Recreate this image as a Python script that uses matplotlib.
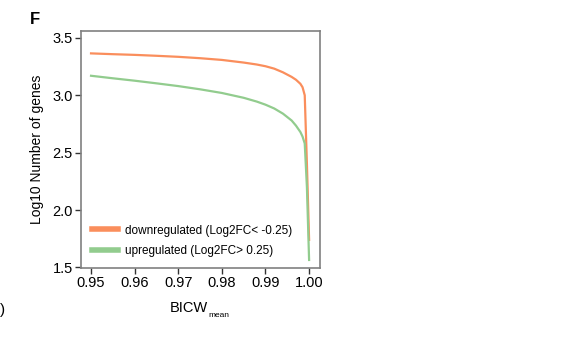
import matplotlib
matplotlib.use('Agg')
from matplotlib import pyplot as plt

plt.rcParams['font.family'] = ['Liberation Sans', 'DejaVu Sans']

# BICW_mean thresholds and log10 gene counts
bicw = [0.950, 0.955, 0.960, 0.965, 0.970, 0.975, 0.980, 0.985, 0.988,
        0.990, 0.992, 0.994, 0.996, 0.997, 0.998, 0.9985, 0.999, 0.9995, 1.000]
down = [3.365, 3.358, 3.352, 3.344, 3.335, 3.323, 3.308, 3.285, 3.268,
        3.253, 3.232, 3.200, 3.160, 3.135, 3.100, 3.070, 3.000, 2.400, 1.740]
up = [3.170, 3.148, 3.127, 3.104, 3.080, 3.052, 3.020, 2.978, 2.945,
      2.918, 2.885, 2.840, 2.780, 2.735, 2.680, 2.640, 2.580, 2.200, 1.565]

labels = ['downregulated (Log2FC< -0.25)', 'upregulated (Log2FC> 0.25)']
colors = ['#FA8E5C', '#92CC8E']

fig = plt.figure(figsize=(5.73, 3.38), dpi=100)
ax = fig.add_axes([81/573, 1 - 268/338, (320-81)/573, (268-31)/338])

ax.plot(bicw, down, color=colors[0], lw=1.6, label=labels[0])
ax.plot(bicw, up, color=colors[1], lw=1.6, label=labels[1])

ax.set_xlim(0.9477, 1.0025)
ax.set_ylim(1.495, 3.56)
ax.set_xticks([0.95, 0.96, 0.97, 0.98, 0.99, 1.00])
ax.set_xticklabels(['0.95', '0.96', '0.97', '0.98', '0.99', '1.00'])
ax.set_yticks([1.5, 2.0, 2.5, 3.0, 3.5])
ax.tick_params(labelsize=10.5, length=4, width=1, color='#333333', pad=2)

for s in ax.spines.values():
    s.set_color('#808080')
    s.set_linewidth(1.2)

ax.set_ylabel('Log10 Number of genes', fontsize=10, labelpad=6)
ax.set_xlabel('BICW', fontsize=10.5)
ax.xaxis.set_label_coords(0.45, -0.14)
ax.annotate('mean', xy=(1, 0), xycoords=ax.xaxis.label, xytext=(0.5, 0),
            textcoords='offset points', ha='left', va='center', fontsize=6)

leg = ax.legend(loc='lower left', frameon=False, fontsize=8.5, handlelength=2.2,
                handletextpad=0.6, labelspacing=0.75, bbox_to_anchor=(0.0, 0.0))
for h in leg.get_lines():
    h.set_linewidth(4)

fig.text(30/573, 1 - 20/338, 'F', fontsize=12, fontweight='bold', va='center')
fig.text(0, 1 - 310/338, ')', fontsize=11, va='center', ha='left')

fig.savefig('out.png', dpi=100)
